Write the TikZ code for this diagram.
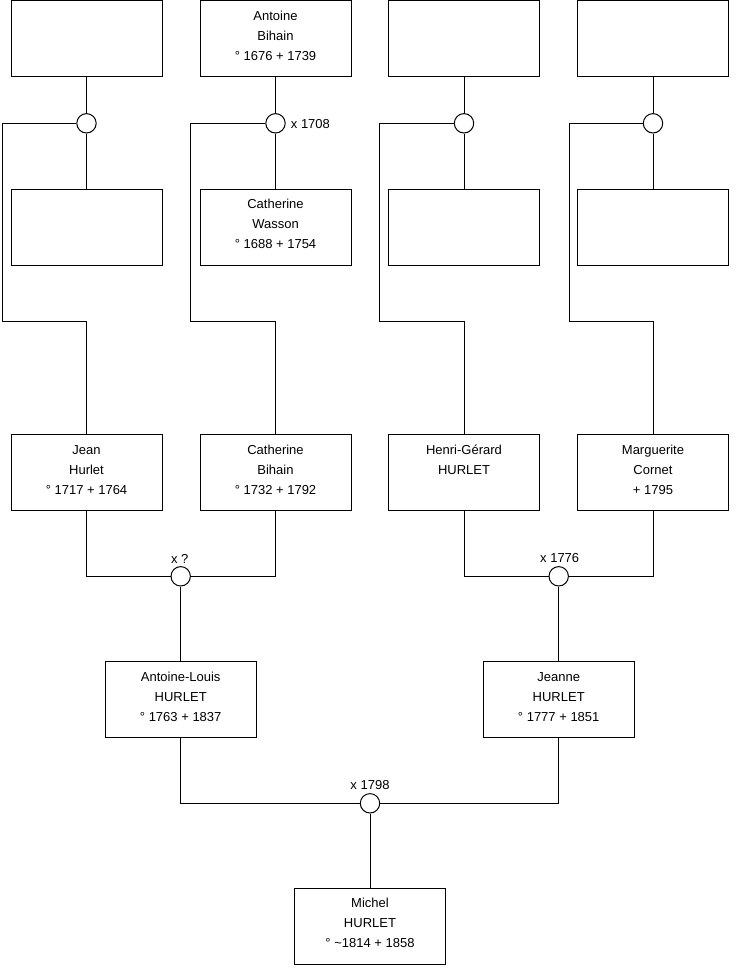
\documentclass[tikz,border=0pt]{standalone}
\usepackage{fontspec}
\setmainfont{Liberation Sans}
\begin{document}
\begin{tikzpicture}[x=1pt,y=-1pt,
  person/.style={draw=black, line width=1pt, minimum width=151pt, minimum height=76pt, inner sep=0pt},
  ptext/.style={anchor=north, align=center, inner sep=0pt, font=\fontsize{13pt}{20pt}\selectfont, yshift=-6pt},
  marr/.style={circle, draw=black, line width=1pt, fill=white, minimum size=19.4pt, inner sep=0pt},
  mlabel/.style={inner sep=0pt, font=\fontsize{13pt}{20pt}\selectfont},
  link/.style={draw=black, line width=1pt}]
\fill[white] (0,0) rectangle (740,975);
\useasboundingbox (0,0) rectangle (740,975);

% row 1
\node[person] (p11) at (86.5,38.5) {};
\node[person] (p12) at (275.5,38.5) {};
\node[person] (p13) at (464,38.5) {};
\node[person] (p14) at (653,38.5) {};
% row 2
\node[person] (p21) at (86.5,227) {};
\node[person] (p22) at (275.5,227) {};
\node[person] (p23) at (464,227) {};
\node[person] (p24) at (653,227) {};
% row 3
\node[person] (p31) at (86.5,472.7) {};
\node[person] (p32) at (275.5,472.7) {};
\node[person] (p33) at (464,472.7) {};
\node[person] (p34) at (653,472.7) {};
% row 4
\node[person] (p41) at (180.7,699.5) {};
\node[person] (p42) at (558.7,699.5) {};
% row 5
\node[person] (p51) at (370,926) {};

% texts
\node[ptext] (t12) at (p12.north) {\strut Antoine\\Bihain\\° 1676 + 1739};
\node[ptext] (t22) at (p22.north) {\strut Catherine\\Wasson\\° 1688 + 1754};
\node[ptext] (t31) at (p31.north) {\strut Jean\\Hurlet\\° 1717 + 1764};
\node[ptext] (t32) at (p32.north) {\strut Catherine\\Bihain\\° 1732 + 1792};
\node[ptext] (t33) at (p33.north) {\strut Henri-Gérard\\HURLET};
\node[ptext] (t34) at (p34.north) {\strut Marguerite\\Cornet\\+ 1795};
\node[ptext] (t41) at (p41.north) {\strut Antoine-Louis\\HURLET\\° 1763 + 1837};
\node[ptext] (t42) at (p42.north) {\strut Jeanne\\HURLET\\° 1777 + 1851};
\node[ptext] (t51) at (p51.north) {\strut Michel\\HURLET\\° \textasciitilde1814 + 1858};

% marriage circles
\node[marr] (m1) at (86.5,123.3) {};
\node[marr] (m2) at (275.5,123.3) {};
\node[marr] (m3) at (464,123.3) {};
\node[marr] (m4) at (653,123.3) {};
\node[marr] (mA) at (180.7,576.3) {};
\node[marr] (mB) at (558.7,576.3) {};
\node[marr] (mC) at (370,803.3) {};

% labels
\node[mlabel, anchor=base west] (l2) at ([xshift=5pt,yshift=-4.7pt]m2.east) {x 1708};
\node[mlabel, anchor=base] (lA) at ([xshift=-1pt,yshift=12.5pt]mA.center) {x ?};
\node[mlabel, anchor=base] (lB) at ([xshift=1pt,yshift=13.5pt]mB.center) {x 1776};
\node[mlabel, anchor=base] (lC) at ([yshift=13.5pt]mC.center) {x 1798};

% bend coordinates
\coordinate (k1) at (2.3,321.7);
\coordinate (k2) at (190.3,321.7);
\coordinate (k3) at (379,321.7);
\coordinate (k4) at (569,321.7);

% connectors
\foreach \i in {1,2,3,4}{
  \draw[link] (p1\i.south) -- (m\i.north);
  \draw[link] (m\i.south) -- (p2\i.north);
  \draw[link] (m\i.west) -| (k\i) -| (p3\i.north);
}
\draw[link] (p31.south) |- (mA.west);
\draw[link] (p32.south) |- (mA.east);
\draw[link] (mA.south) -- (p41.north);
\draw[link] (p33.south) |- (mB.west);
\draw[link] (p34.south) |- (mB.east);
\draw[link] (mB.south) -- (p42.north);
\draw[link] (p41.south) |- (mC.west);
\draw[link] (p42.south) |- (mC.east);
\draw[link] (mC.south) -- (p51.north);
\end{tikzpicture}
\end{document}
